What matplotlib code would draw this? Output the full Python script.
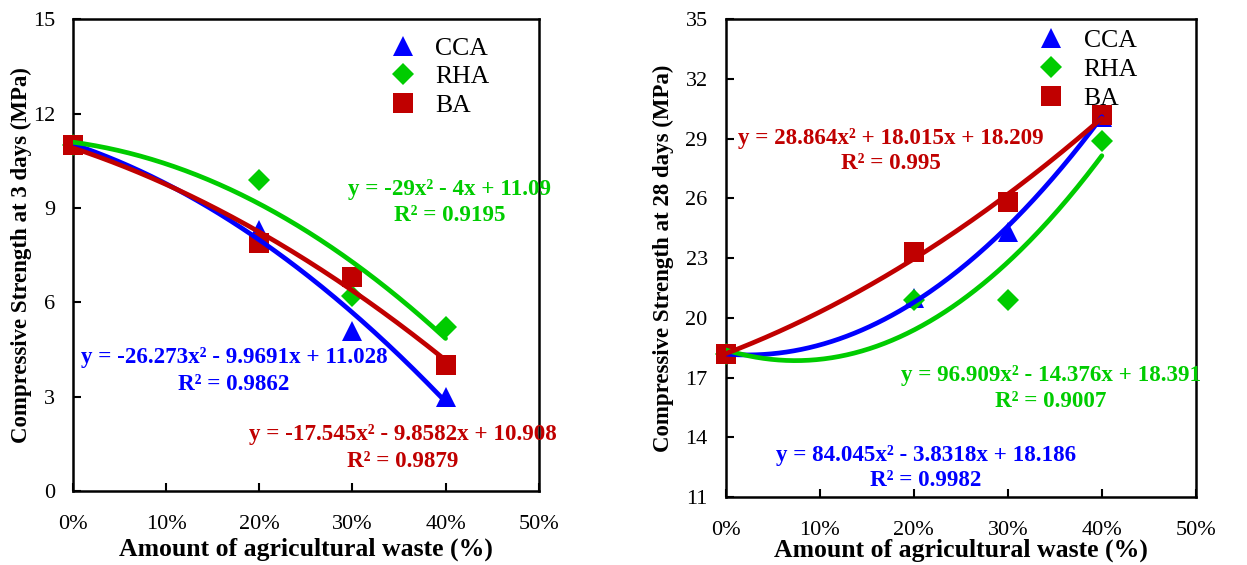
import matplotlib
matplotlib.use("Agg")
import matplotlib.pyplot as plt
import numpy as np

plt.rcParams['font.family'] = ['Liberation Serif', 'DejaVu Serif']

x_vals = [0.0, 0.2, 0.3, 0.4]
series = ["CCA", "RHA", "BA"]
colors = {"CCA": "#0000FF", "RHA": "#00CC00", "BA": "#C00000"}
markers = {"CCA": "^", "RHA": "D", "BA": "s"}
msizes = {"CCA": 14, "RHA": 11, "BA": 15}

day3 = {
    "CCA": [11.0, 8.3, 5.1, 3.0],
    "RHA": [11.0, 9.9, 6.2, 5.2],
    "BA": [11.0, 7.9, 6.8, 4.0],
}
day28 = {
    "CCA": [18.2, 21.0, 24.3, 30.1],
    "RHA": [18.2, 20.9, 20.9, 28.9],
    "BA": [18.2, 23.3, 25.8, 30.2],
}
# trendline coefficients (a, b, c) for y = a x^2 + b x + c, as printed on the chart
coef3 = {
    "CCA": [-26.273, -9.9691, 11.028],
    "RHA": [-29.0, -4.0, 11.09],
    "BA": [-17.545, -9.8582, 10.908],
}
coef28 = {
    "CCA": [84.045, -3.8318, 18.186],
    "RHA": [96.909, -14.376, 18.391],
    "BA": [28.864, 18.015, 18.209],
}
eq3 = {
    "CCA": ("y = -26.273x² - 9.9691x + 11.028", "R² = 0.9862"),
    "RHA": ("y = -29x² - 4x + 11.09", "R² = 0.9195"),
    "BA": ("y = -17.545x² - 9.8582x + 10.908", "R² = 0.9879"),
}
eq28 = {
    "CCA": ("y = 84.045x² - 3.8318x + 18.186", "R² = 0.9982"),
    "RHA": ("y = 96.909x² - 14.376x + 18.391", "R² = 0.9007"),
    "BA": ("y = 28.864x² + 18.015x + 18.209", "R² = 0.995"),
}
x_ticks = [0, 0.1, 0.2, 0.3, 0.4, 0.5]
x_ticklabels = ["0%", "10%", "20%", "30%", "40%", "50%"]
y3_ticks = [0, 3, 6, 9, 12, 15]
y28_ticks = [11, 14, 17, 20, 23, 26, 29, 32, 35]

# annotation positions (data coords): eq line, R2 line
pos3 = {"CCA": (0.173, 4.23, 3.37), "RHA": (0.404, 9.57, 8.77), "BA": (0.354, 1.81, 0.95)}
pos28 = {"CCA": (0.213, 13.11, 11.85), "RHA": (0.346, 17.13, 15.83), "BA": (0.1755, 29.03, 27.77)}

fig = plt.figure(figsize=(12.47, 5.65), dpi=100)
ax1 = fig.add_axes([0.0585, 0.131, 0.3735, 0.835])
ax2 = fig.add_axes([0.582, 0.120, 0.377, 0.846])

xs = np.linspace(0, 0.4, 200)

def draw(ax, data, coef, eqs, pos, yticks, ylabel, leg_anchor, xlab_y, ylab_x):
    for s in series:
        ax.plot(x_vals, data[s], linestyle='none', marker=markers[s], color=colors[s],
                markersize=msizes[s], label=s, zorder=3, markeredgewidth=0, clip_on=False)
    for s in series:
        a, b, c = coef[s]
        ax.plot(xs, a * xs**2 + b * xs + c, color=colors[s], lw=3.4, zorder=4,
                solid_capstyle='round')
    for s in series:
        px, py1, py2 = pos[s]
        ax.text(px, py1, eqs[s][0], color=colors[s], fontsize=16.6, fontweight='bold',
                ha='center', va='center', zorder=5)
        ax.text(px, py2, eqs[s][1], color=colors[s], fontsize=16.6, fontweight='bold',
                ha='center', va='center', zorder=5)
    ax.set_xlim(0, 0.5)
    ax.set_ylim(yticks[0], yticks[-1])
    ax.set_xticks(x_ticks)
    ax.set_xticklabels(x_ticklabels)
    ax.set_yticks(yticks)
    ax.tick_params(direction='in', length=6, width=1.5, labelsize=16)
    ax.tick_params(axis='y', pad=13)
    ax.tick_params(axis='x', pad=17)
    for sp in ax.spines.values():
        sp.set_linewidth(1.8)
    ax.set_xlabel("Amount of agricultural waste (%)", fontsize=18.5, fontweight='bold',
                  va='center')
    ax.xaxis.set_label_coords(0.5, xlab_y)
    ax.set_ylabel(ylabel, fontsize=16.5, fontweight='bold', va='center')
    ax.yaxis.set_label_coords(ylab_x, 0.5)
    ax.legend(loc='upper left', bbox_to_anchor=leg_anchor, frameon=False, fontsize=18.5,
              handletextpad=0.5, labelspacing=0.22, borderaxespad=0, handlelength=1.5)
    for t in ax.get_xticklabels() + ax.get_yticklabels():
        t.set_clip_on(False)

draw(ax1, day3, coef3, eq3, pos3, y3_ticks, "Compressive Strength at 3 days (MPa)",
     (0.645, 0.985), -0.1229, -0.1116)
draw(ax2, day28, coef28, eq28, pos28, y28_ticks, "Compressive Strength at 28 days (MPa)",
     (0.63, 1.0), -0.1109, -0.132)

fig.savefig("out.png", dpi=100)
